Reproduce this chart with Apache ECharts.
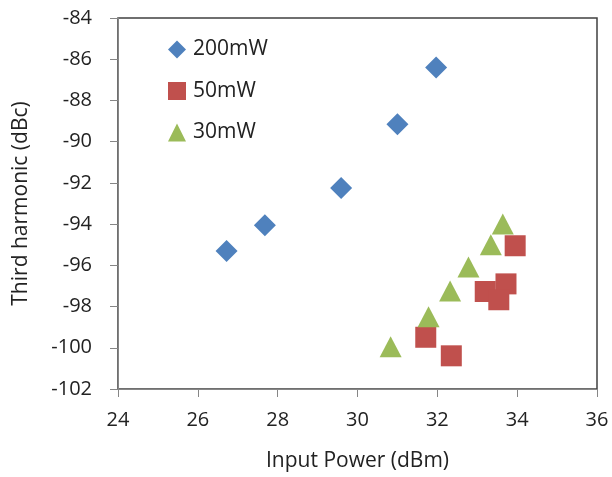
<!DOCTYPE html>
<html>
<head>
<meta charset="utf-8">
<script src="https://cdn.jsdelivr.net/npm/echarts@6/dist/echarts.min.js"></script>
<style>
  html, body { margin: 0; padding: 0; background: #fff; }
  #chart { width: 612px; height: 477px; }
</style>
</head>
<body>
<div id="chart"></div>
<script>
// data: [input power dBm, third harmonic dBc]
const series200mW = [[26.72, -95.3], [27.68, -94.05], [29.59, -92.25], [31.0, -89.15], [31.97, -86.4]];
const series50mW = [[33.95, -95.05], [33.72, -96.9], [33.2, -97.27], [33.54, -97.67], [31.71, -99.49], [32.35, -100.39]];
const series30mW = [[30.83, -99.95], [31.78, -98.5], [32.32, -97.25], [32.78, -96.08], [33.34, -95.0], [33.64, -94.0]];
const seriesNames = ['200mW', '50mW', '30mW'];

const font = 'Open Sans';
const chart = echarts.init(document.getElementById('chart'));

chart.setOption({
  animation: false,
  textStyle: { fontFamily: font },
  grid: {
    left: 118, top: 18, right: 15, bottom: 88,
    show: true, borderColor: '#404040', borderWidth: 1.5
  },
  legend: {
    orient: 'vertical',
    left: 163, top: 34,
    itemWidth: 18, itemHeight: 18, itemGap: 20.5,
    textStyle: { fontFamily: font, fontSize: 21, color: '#222', padding: [0, 0, 0, 2] },
    data: [
      { name: seriesNames[0], icon: 'diamond' },
      { name: seriesNames[1], icon: 'rect' },
      { name: seriesNames[2], icon: 'triangle' }
    ]
  },
  xAxis: {
    type: 'value', min: 24, max: 36, interval: 2,
    name: 'Input Power (dBm)', nameLocation: 'middle', nameGap: 62,
    nameTextStyle: { fontSize: 21, color: '#222' },
    axisLine: { show: true, onZero: false, lineStyle: { color: '#868686', width: 1 } },
    axisTick: { show: true, inside: false, length: 8, lineStyle: { color: '#868686' } },
    axisLabel: { fontSize: 20, color: '#222', margin: 21 },
    splitLine: { show: false }
  },
  yAxis: {
    type: 'value', min: -102, max: -84, interval: 2,
    name: 'Third harmonic (dBc)', nameLocation: 'middle', nameGap: 86,
    nameTextStyle: { fontSize: 21, color: '#222' },
    axisLine: { show: true, onZero: false, lineStyle: { color: '#868686', width: 1 } },
    axisTick: { show: true, inside: false, length: 8, lineStyle: { color: '#868686' } },
    axisLabel: { fontSize: 20, color: '#222', margin: 26 },
    splitLine: { show: false }
  },
  series: [
    {
      name: seriesNames[0], type: 'scatter', data: series200mW,
      symbol: 'diamond', symbolSize: 22,
      itemStyle: { color: '#4F81BD', opacity: 1 }
    },
    {
      name: seriesNames[1], type: 'scatter', data: series50mW,
      symbol: 'rect', symbolSize: 21,
      itemStyle: { color: '#C0504D', opacity: 1 }
    },
    {
      name: seriesNames[2], type: 'scatter', data: series30mW,
      symbol: 'triangle', symbolSize: [22, 21],
      itemStyle: { color: '#9BBB59', opacity: 1 }
    }
  ]
});
</script>
</body>
</html>
